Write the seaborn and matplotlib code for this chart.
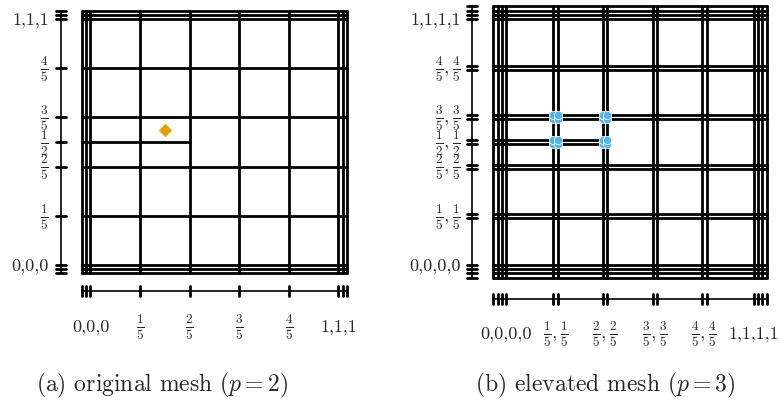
import numpy as np
import pandas as pd
import matplotlib.pyplot as plt
import seaborn as sns
from fractions import Fraction

sns.set_theme(style='white')
plt.rcParams['font.family'] = ['cmr10', 'DejaVu Serif']
plt.rcParams['mathtext.fontset'] = 'cm'
plt.rcParams['axes.unicode_minus'] = False
plt.rcParams['axes.formatter.use_mathtext'] = True

# original mesh, p = 2
knots_x_a = [0, 0, 0, 1/5, 2/5, 3/5, 4/5, 1, 1, 1]
knots_y_a = [0, 0, 0, 1/5, 2/5, 1/2, 3/5, 4/5, 1, 1, 1]
# elevated mesh, p = 3
knots_x_b = [0, 0, 0, 0, 1/5, 1/5, 2/5, 2/5, 3/5, 3/5, 4/5, 4/5, 1, 1, 1, 1]
knots_y_b = [0, 0, 0, 0, 1/5, 1/5, 2/5, 2/5, 1/2, 1/2, 3/5, 3/5, 4/5, 4/5, 1, 1, 1, 1]
# the y = 1/2 line only runs from x = 0 to x = 2/5
partial_y = 1/2
partial_x = [0, 2/5]
# the refined element
elem_x = [1/5, 2/5]
elem_y = [1/2, 3/5]

captions = ['(a) original mesh ($p=2$)', '(b) elevated mesh ($p=3$)']

D = 0.017        # offset between repeated knot lines
TICK = 0.021     # half tick length


def positions(knots):
    vals, counts = np.unique(np.round(knots, 6), return_counts=True)
    out = {}
    for v, m in zip(vals, counts):
        j = np.arange(m)
        if v == 0:
            out[v] = -j * D
        elif v == 1:
            out[v] = 1 + j * D
        else:
            out[v] = v + (j - (m - 1) / 2) * D
    return out, dict(zip(vals, counts))


def label(v, m):
    if v in (0, 1):
        return ','.join([str(int(v))] * m), 13
    f = Fraction(v).limit_denominator(10)
    return '$' + ','.join([r'\frac{%d}{%d}' % (f.numerator, f.denominator)] * m) + '$', 13.5


def draw(ax, kx, ky, u_axis, v_axis, ylab_u, xlab_v, marker):
    px, mx = positions(kx)
    py, my = positions(ky)
    allx = np.concatenate(list(px.values()))
    ally = np.concatenate(list(py.values()))
    x0, x1, y0, y1 = allx.min(), allx.max(), ally.min(), ally.max()

    segs = []
    for xs in px.values():
        for x in xs:
            segs.append([(x, y0), (x, y1)])
    for v, ys in py.items():
        if np.isclose(v, partial_y):
            a = px[np.round(partial_x[0], 6)].min()
            b = px[np.round(partial_x[1], 6)].max()
        else:
            a, b = x0, x1
        for y in ys:
            segs.append([(a, y), (b, y)])
    ticks = []
    for y in ally:
        ticks.append([(u_axis - TICK, y), (u_axis + TICK, y)])
    for x in allx:
        ticks.append([(x, v_axis - TICK), (x, v_axis + TICK)])
    axes_l = [[(u_axis, y0), (u_axis, y1)], [(x0, v_axis), (x1, v_axis)]]

    for group, lw in [(segs, 2.0), (ticks, 2.0), (axes_l, 1.2)]:
        df = pd.DataFrame([(i, p[0], p[1]) for i, s in enumerate(group) for p in s],
                          columns=['seg', 'x', 'y'])
        sns.lineplot(data=df, x='x', y='y', units='seg', estimator=None, sort=False,
                     color='black', lw=lw, ax=ax, legend=False)

    for v, m in my.items():
        txt, fs = label(v, m)
        ax.text(ylab_u, v, txt, ha='right', va='center', fontsize=fs)
    for v, m in mx.items():
        txt, fs = label(v, m)
        ax.text(v, xlab_v, txt, ha='center', va='center', fontsize=fs)

    if marker == 'center':
        pts = pd.DataFrame({'x': [np.mean(elem_x)], 'y': [np.mean(elem_y)]})
        sns.scatterplot(data=pts, x='x', y='y', marker='D', s=40, color='#E69F00',
                        edgecolor='#E69F00', ax=ax, zorder=5)
    else:
        pts = pd.DataFrame([(x, y) for ex in elem_x for ey in elem_y
                            for x in px[np.round(ex, 6)] for y in py[np.round(ey, 6)]],
                           columns=['x', 'y'])
        sns.scatterplot(data=pts, x='x', y='y', marker='o', s=36, color='#56B4E9',
                        edgecolor='white', linewidth=0.5, ax=ax, zorder=5)


fig = plt.figure(figsize=(7.8, 4.14), dpi=100)
W, H = 780, 414
SX, SY = 248, 246
panels = [
    # pixel x of u = 0, pixel x of y axis, pixel y of x axis, label x, label y
    (0, 390, 90.5, 61, 292, 49, 327, knots_x_a, knots_y_a, 'center'),
    (390, 780, 506, 472, 300, 461, 334, knots_x_b, knots_y_b, 'corners'),
]
for left, right, ox, ax_px, ax_py, lab_px, lab_py, kx, ky, mk in panels:
    ax = fig.add_axes([left / W, 0, (right - left) / W, 1])
    ax.set_xlim((left - ox) / SX, (right - ox) / SX)
    ax.set_ylim((266 - H) / SY, 266 / SY)
    ax.axis('off')
    draw(ax, kx, ky, (ax_px - ox) / SX, (266 - ax_py) / SY,
         (lab_px - ox) / SX, (266 - lab_py) / SY, mk)

fig.text(162 / W, 1 - 385 / H, captions[0], ha='center', va='center', fontsize=17)
fig.text(605 / W, 1 - 385 / H, captions[1], ha='center', va='center', fontsize=17)

fig.savefig('out.png', dpi=100)
